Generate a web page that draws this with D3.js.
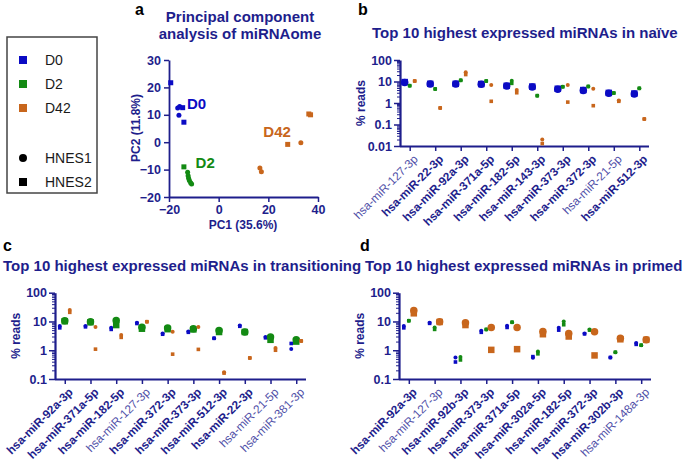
<!DOCTYPE html>
<html><head><meta charset="utf-8">
<script src="https://cdn.jsdelivr.net/npm/d3@7"></script>
<style>
body{margin:0;background:#fff;}
svg{display:block;font-family:"Liberation Sans",Arial,sans-serif;}
</style></head>
<body>
<svg id="chart" width="685" height="462"></svg>
<script>
// ---------------- DATA ----------------
const groups = ["D0","D2","D42"];
const cellLines = ["HNES1","HNES2"];
const groupColors = ["#0b0bc4","#138a13","#c8661c"];

// PCA: [PC1, PC2]
const pcaD0_HNES1 = [[-16.5,12.5],[-15.7,13.0],[-16.0,9.8]];
const pcaD0_HNES2 = [[-19.3,21.7],[-14.5,12.6],[-14.0,7.3]];
const pcaD2_HNES1 = [[-12.5,-11.0],[-12.3,-12.2],[-12.1,-13.2],[-11.8,-14.0],[-11.3,-14.8],[-10.9,-15.3]];
const pcaD2_HNES2 = [[-14.0,-9.0]];
const pcaD42_HNES1 = [[33.1,-0.2],[16.6,-9.4],[17.2,-10.8]];
const pcaD42_HNES2 = [[36.3,10.3],[37.0,10.0],[27.8,-0.8]];
const pcaXTicks = [-20,0,20,40];
const pcaYTicks = [-20,-10,0,10,20,30];
const pcaGroupLabelPos = [[-12.8,12.1],[-9.3,-9.5],[18,1.8]];

// Panel b: naive. values [HNES1 (circle), HNES2 (square)]
const naiveCats = ["hsa-miR-127-3p","hsa-miR-22-3p","hsa-miR-92a-3p","hsa-miR-371a-5p","hsa-miR-182-5p","hsa-miR-143-3p","hsa-miR-373-3p","hsa-miR-372-3p","hsa-miR-21-5p","hsa-miR-512-3p"];
const naiveBold = [false,true,true,true,true,true,true,true,false,true];
const naiveD0  = [[9.0,9.4],[7.6,7.8],[7.6,7.8],[7.4,7.6],[6.1,6.3],[5.6,5.8],[4.4,4.6],[3.8,4.0],[2.85,2.95],[2.65,2.75]];
const naiveD2  = [[6.4,6.4],[4.5,4.5],[11.3,11.3],[10.5,10.5],[10.9,8.2],[2.2,2.2],[5.7,5.7],[5.9,5.9],[2.9,2.9],[4.8,4.8]];
const naiveD42 = [[10.5,10.5],[0.59,0.59],[27,21],[6.9,1.2],[4.0,3.0],[0.020,0.013],[6.9,1.1],[4.6,0.75],[1.3,1.2],[0.18,0.18]];

// Panel c: transitioning
const transCats = ["hsa-miR-92a-3p","hsa-miR-371a-5p","hsa-miR-182-5p","hsa-miR-127-3p","hsa-miR-372-3p","hsa-miR-373-3p","hsa-miR-512-3p","hsa-miR-22-3p","hsa-miR-21-5p","hsa-miR-381-3p"];
const transBold = [true,true,true,false,true,true,true,true,false,false];
const transD0  = [[6.9,6.0],[6.9,6.5],[6.0,5.3],[9.0,8.5],[3.85,3.6],[4.5,4.2],[2.6,2.6],[7.3,6.8],[2.9,2.7],[1.1,1.72]];
const transD2  = [[10.6,10.2],[9.8,9.4],[10.8,7.5],[6.3,5.6],[5.9,5.4],[5.6,5.3],[4.9,4.3],[4.3,4.3],[2.9,2.3],[2.3,2.0]];
const transD42 = [[25,20.8],[6.4,1.09],[3.4,2.8],[9.8,9.8],[4.4,0.73],[6.4,1.07],[0.17,0.16],[0.54,0.54],[1.2,1.0],[2.1,2.1]];

// Panel d: primed
const primedCats = ["hsa-miR-92a-3p","hsa-miR-127-3p","hsa-miR-92b-3p","hsa-miR-373-3p","hsa-miR-371a-5p","hsa-miR-302a-5p","hsa-miR-182-5p","hsa-miR-372-3p","hsa-miR-302b-3p","hsa-miR-148a-3p"];
const primedBold = [true,false,true,true,true,true,true,true,true,false];
const primedD0  = [[6.9,6.0],[9.0,8.6],[0.56,0.39],[4.8,4.2],[7.1,6.2],[0.55,0.6],[6.0,5.0],[3.85,3.7],[0.56,0.56],[1.8,1.6]];
const primedD2  = [[10.6,10.6],[6.2,5.3],[0.58,0.46],[5.3,5.3],[9.4,9.4],[0.9,0.75],[10.0,7.7],[5.3,5.0],[0.85,0.85],[1.5,1.5]];
const primedD42 = [[24,19.2],[9.8,9.6],[9.0,7.5],[6.2,1.03],[6.2,1.09],[4.5,3.6],[3.8,3.0],[4.4,0.66],[2.6,2.4],[2.3,2.3]];

const logTickValsB = [0.01,0.1,1,10,100];
const logTickLabelsB = ["0.01","0.1","1","10","100"];
const logTickValsCD = [0.1,1,10,100];
const logTickLabelsCD = ["0.1","1","10","100"];

// ---------------- DRAW ----------------
const NAVY = "#1e1e8c";
const LIGHT = "#5050a8";
const svg = d3.select("#chart");

function panelLetter(t,x,y){
  svg.append("text").attr("x",x).attr("y",y).text(t)
    .attr("font-size",16).attr("font-weight","bold").attr("fill","#000");
}
function title(t,x,y,anchor){
  svg.append("text").attr("x",x).attr("y",y).text(t).attr("text-anchor",anchor||"start")
    .attr("font-size",15).attr("font-weight","bold").attr("fill",NAVY);
}
function styleAxis(g, width){
  g.selectAll("path.domain").attr("stroke",NAVY).attr("stroke-width",width||2);
  g.selectAll(".tick line").attr("stroke",NAVY).attr("stroke-width",1.5);
  g.selectAll(".tick text").attr("fill",NAVY).attr("font-size",12.5).attr("font-weight","bold")
    .attr("font-family","'Liberation Sans',Arial,sans-serif");
}
function marker(g, shape, x, y, size, color){
  if(shape==="circle"){
    g.append("circle").attr("cx",x).attr("cy",y).attr("r",size/2).attr("fill",color);
  } else {
    g.append("rect").attr("x",x-size/2).attr("y",y-size/2).attr("width",size).attr("height",size).attr("fill",color);
  }
}

// Legend
const leg = svg.append("g");
leg.append("rect").attr("x",7).attr("y",37).attr("width",90).attr("height",156)
  .attr("fill","none").attr("stroke","#444").attr("stroke-width",1.5);
const legY = [60,84,108];
groups.forEach((gname,i)=>{
  leg.append("rect").attr("x",19).attr("y",legY[i]-4).attr("width",8).attr("height",8).attr("fill",groupColors[i]);
  leg.append("text").attr("x",45).attr("y",legY[i]+5).text(gname).attr("font-size",14).attr("fill","#1a1a1a");
});
const legY2 = [158,182];
cellLines.forEach((c,i)=>{
  if(i===0) leg.append("circle").attr("cx",23).attr("cy",legY2[i]).attr("r",4).attr("fill","#000");
  else leg.append("rect").attr("x",19).attr("y",legY2[i]-4).attr("width",8).attr("height",8).attr("fill","#000");
  leg.append("text").attr("x",45).attr("y",legY2[i]+5).text(c).attr("font-size",14).attr("fill","#1a1a1a");
});

// Panel a: PCA
panelLetter("a",135,15);
title("Principal component",240,22,"middle");
title("analysis of miRNAome",240,39,"middle");
{
  const x = d3.scaleLinear().domain([-20,40]).range([169,318]);
  const y = d3.scaleLinear().domain([-20,30]).range([197,60]);
  const gx = svg.append("g").attr("transform","translate(0,197)")
    .call(d3.axisBottom(x).tickValues(pcaXTicks).tickSize(5).tickSizeOuter(0).tickPadding(3));
  styleAxis(gx,1.8);
  const gy = svg.append("g").attr("transform","translate(169,0)")
    .call(d3.axisLeft(y).tickValues(pcaYTicks).tickSize(5).tickSizeOuter(0).tickPadding(3));
  styleAxis(gy,1.8);
  svg.append("text").attr("x",243).attr("y",229).attr("text-anchor","middle").text("PC1 (35.6%)")
    .attr("font-size",12).attr("font-weight","bold").attr("fill",NAVY);
  svg.append("text").attr("transform","translate(140,128) rotate(-90)").attr("text-anchor","middle").text("PC2 (11.8%)")
    .attr("font-size",12).attr("font-weight","bold").attr("fill",NAVY);
  const sets = [[pcaD0_HNES1,pcaD0_HNES2],[pcaD2_HNES1,pcaD2_HNES2],[pcaD42_HNES1,pcaD42_HNES2]];
  const gp = svg.append("g");
  sets.forEach((s,gi)=>{
    s[0].forEach(p=>marker(gp,"circle",x(p[0]),y(p[1]),5,groupColors[gi]));
    s[1].forEach(p=>marker(gp,"square",x(p[0]),y(p[1]),5,groupColors[gi]));
    svg.append("text").attr("x",x(pcaGroupLabelPos[gi][0])).attr("y",y(pcaGroupLabelPos[gi][1]))
      .text(groups[gi]).attr("font-size",15).attr("font-weight","bold").attr("fill",groupColors[gi]);
  });
}

// Dot plot panels
function dotPanel(opt){
  const {cats,bold,data,emph,x0,x1,yTop,yBot,domain,ticks,tickLabels,labelX} = opt;
  const x = d3.scalePoint().domain(cats).range([x0,x1]).padding(0.38);
  const y = d3.scaleLog().domain(domain).range([yBot,yTop]);
  const minor = [];
  for(let e=Math.log10(domain[0]); e<Math.log10(domain[1]); e++){
    for(let k=2;k<=9;k++) minor.push(k*Math.pow(10,e));
  }
  const gmin = svg.append("g").attr("transform",`translate(${x0},0)`)
    .call(d3.axisLeft(y).tickValues(minor).tickSize(3).tickFormat(""));
  gmin.selectAll("path.domain").remove();
  gmin.selectAll(".tick line").attr("stroke",NAVY).attr("stroke-width",1);
  const gy = svg.append("g").attr("transform",`translate(${x0},0)`)
    .call(d3.axisLeft(y).tickValues(ticks).tickSize(6).tickSizeOuter(0).tickPadding(2)
      .tickFormat((d,i)=>tickLabels[i]));
  styleAxis(gy,2.2);
  const gx = svg.append("g").attr("transform",`translate(0,${yBot})`)
    .call(d3.axisBottom(x).tickSize(5).tickSizeOuter(0).tickFormat(""));
  gx.select("path.domain").attr("d",`M${x0},0.5H${x1}`);
  styleAxis(gx,1.8);
  cats.forEach((c,i)=>{
    svg.append("text").attr("transform",`translate(${x(c)+3},${yBot+8}) rotate(-45)`)
      .attr("text-anchor","end").attr("dy","0.7em").text(c)
      .attr("font-size",11.8).attr("font-weight",bold[i]?"bold":"normal")
      .attr("fill",bold[i]?NAVY:LIGHT);
  });
  svg.append("text").attr("transform",`translate(${labelX},${(yTop+yBot)/2}) rotate(-90)`)
    .attr("text-anchor","middle").text("% reads")
    .attr("font-size",12).attr("font-weight","bold").attr("fill",NAVY);
  const offs = [-5,0,5];
  const gp = svg.append("g");
  data.forEach((arr,gi)=>{
    const big = gi===emph;
    arr.forEach((v,ci)=>{
      const cx = x(cats[ci]) + offs[gi];
      marker(gp,"circle",cx,y(v[0]),big?7.5:4,groupColors[gi]);
      marker(gp,"square",cx,y(v[1]),big?6.5:3.6,groupColors[gi]);
    });
  });
}

panelLetter("b",358,15);
title("Top 10 highest expressed miRNAs in naïve",372,38);
dotPanel({cats:naiveCats,bold:naiveBold,data:[naiveD0,naiveD2,naiveD42],emph:0,
  x0:400,x1:649,yTop:60,yBot:146,domain:[0.01,100],ticks:logTickValsB,tickLabels:logTickLabelsB,labelX:365});

panelLetter("c",3,251);
title("Top 10 highest expressed miRNAs in transitioning",3,271);
dotPanel({cats:transCats,bold:transBold,data:[transD0,transD2,transD42],emph:1,
  x0:55,x1:306,yTop:292.7,yBot:379,domain:[0.1,100],ticks:logTickValsCD,tickLabels:logTickLabelsCD,labelX:20});

panelLetter("d",360,251);
title("Top 10 highest expressed miRNAs in primed",365,271);
dotPanel({cats:primedCats,bold:primedBold,data:[primedD0,primedD2,primedD42],emph:2,
  x0:399,x1:651,yTop:292.7,yBot:379,domain:[0.1,100],ticks:logTickValsCD,tickLabels:logTickLabelsCD,labelX:364});
</script>
</body></html>
